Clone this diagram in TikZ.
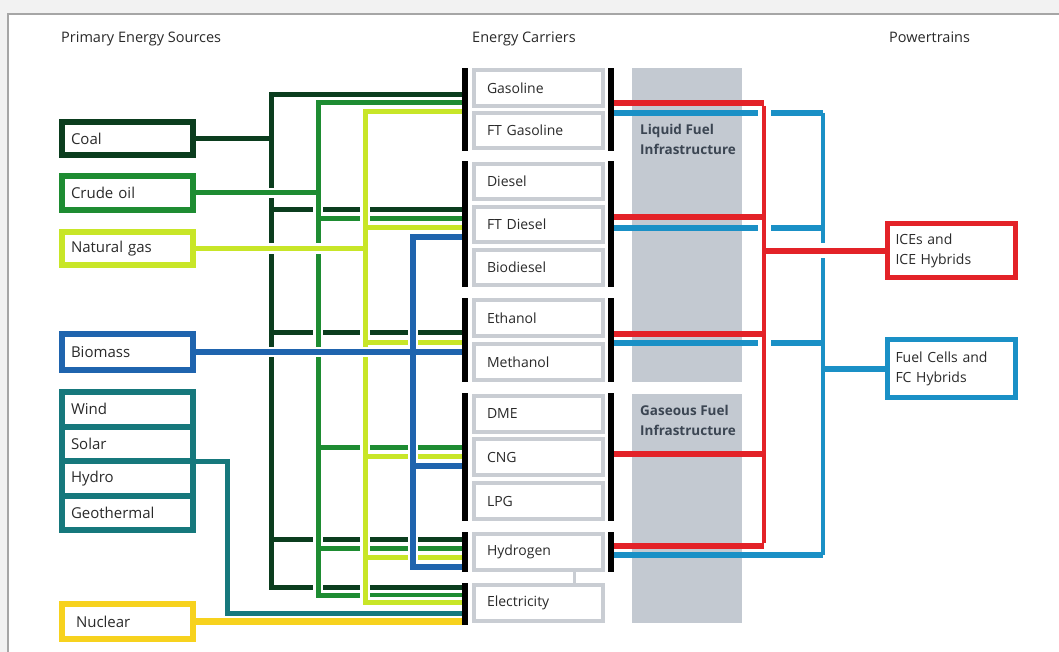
\documentclass[tikz,border=0pt]{standalone}
\usepackage{fontspec}
\setmainfont{Open Sans}
\usetikzlibrary{backgrounds}
\definecolor{coalcol}{HTML}{0B3D1E}
\definecolor{crudecol}{HTML}{1E8C32}
\definecolor{gascol}{HTML}{C8E628}
\definecolor{biocol}{HTML}{1F64AE}
\definecolor{rencol}{HTML}{16787C}
\definecolor{nuccol}{HTML}{F7D21E}
\definecolor{icecol}{HTML}{E32228}
\definecolor{fccol}{HTML}{1A90C6}
\definecolor{carrierborder}{HTML}{C9CDD3}
\definecolor{bandcol}{HTML}{C3C9D1}
\definecolor{bandtext}{HTML}{3B4552}
\definecolor{txt}{HTML}{2A2A2A}
\newcommand\treeCoal[1]{%
  \draw[#1] (coal.east) -- (coal.east -| xC);
  \draw[#1] (c1) -- (c1 -| xC) -- (c5 -| xC) -- (c5);
  \draw[#1] (c2 -| xC) -- (c2);
  \draw[#1] (c3 -| xC) -- (c3);
  \draw[#1] (c4 -| xC) -- (c4);}
\newcommand\treeCrude[1]{%
  \draw[#1] (crude.east) -- (crude.east -| xO);
  \draw[#1] (o1) -- (o1 -| xO) -- (o5 -| xO) -- (o5);
  \draw[#1] (o2 -| xO) -- (o2);
  \draw[#1] (o3 -| xO) -- (o3);
  \draw[#1] (o4 -| xO) -- (o4);}
\newcommand\treeGas[1]{%
  \draw[#1] (gas.east) -- (gas.east -| xG);
  \draw[#1] (g1) -- (g1 -| xG) -- (g6 -| xG) -- (g6);
  \draw[#1] (g2 -| xG) -- (g2);
  \draw[#1] (g3 -| xG) -- (g3);
  \draw[#1] (g4 -| xG) -- (g4);
  \draw[#1] (g5 -| xG) -- (g5);}
\newcommand\treeBio[1]{%
  \draw[#1] (biomass.east) -- (biomass.east -| xL);
  \draw[#1] (b1) -- (b1 -| xB) -- (b4 -| xB) -- (b4);
  \draw[#1] (b3 -| xB) -- (b3);}
\newcommand\treeRen[1]{%
  \draw[#1] (rs) -- (rs -| xR) -- (r1 -| xR) -- (r1);}
\begin{document}
\begin{tikzpicture}[x=1pt,y=-1pt,
  src/.style={draw=#1, line width=6pt, fill=white, minimum width=131pt,
    text width=113pt, inner xsep=9pt, inner ysep=0pt, align=left,
    font=\fontsize{15}{17}\selectfont, text=txt},
  carrier/.style={draw=carrierborder, line width=4pt, fill=white,
    minimum width=129pt, text width=103pt, inner xsep=13pt, inner ysep=0pt,
    minimum height=35.5pt, align=left, font=\fontsize{14}{16}\selectfont, text=txt},
  barn/.style={fill=black, draw=none, minimum width=6pt, inner sep=0pt},
  pt/.style={draw=#1, line width=5pt, fill=white, minimum width=128pt,
    text width=112pt, inner xsep=8pt, inner ysep=0pt, align=left,
    font=\fontsize{14}{20}\selectfont, text=txt},
  hdr/.style={font=\fontsize{14.5}{16}\selectfont, text=txt, inner sep=0pt, anchor=base west},
  bandlbl/.style={font=\fontsize{13.5}{20}\selectfont\bfseries, text=bandtext,
    inner sep=0pt, anchor=north west, align=left},
  halo/.style={draw=white, line width=10pt},
  coalL/.style={draw=coalcol, line width=5pt},
  crudeL/.style={draw=crudecol, line width=5pt},
  gasL/.style={draw=gascol, line width=5pt},
  bioL/.style={draw=biocol, line width=5.5pt},
  renL/.style={draw=rencol, line width=5pt},
  nucL/.style={draw=nuccol, line width=6.5pt},
  iceL/.style={draw=icecol, line width=6pt},
  iceV/.style={draw=icecol, line width=4.5pt},
  fcL/.style={draw=fccol, line width=6pt},
  fcV/.style={draw=fccol, line width=4.5pt}
]
\useasboundingbox (0,0) rectangle (1059,652);

% headers
\node[hdr] (h1) at (61,43) {Primary Energy Sources};
\node[hdr] (h2) at (472,43) {Energy Carriers};
\node[hdr] (h3) at (889,43) {Powertrains};

% primary sources
\node[src=coalcol, minimum height=33pt] (coal) at (127.5,138.5) {Coal};
\node[src=crudecol, minimum height=34pt] (crude) at (127.5,193) {Crude oil};
\node[src=gascol, minimum height=33pt] (gas) at (127.5,248.5) {Natural gas};
\node[src=biocol, minimum height=36pt] (biomass) at (127.5,352) {Biomass};
\node[src=rencol, minimum height=34.5pt] (wind) at (127.5,409.25) {Wind};
\node[src=rencol, minimum height=34.5pt] (solar) at (127.5,443.75) {Solar};
\node[src=rencol, minimum height=34.5pt] (hydro) at (127.5,478.25) {Hydro};
\node[src=rencol, minimum height=34.5pt] (geo) at (127.5,512.75) {Geothermal};
\node[src=nuccol, minimum height=35pt] (nuclear) at (127.5,621.5) {\hspace{5pt}Nuclear};

% carriers
\node[carrier] (gasoline) at (538.5,88) {Gasoline};
\node[carrier] (ftgas) at (538.5,130.5) {FT Gasoline};
\node[carrier] (diesel) at (538.5,181.5) {Diesel};
\node[carrier] (ftdiesel) at (538.5,224.5) {FT Diesel};
\node[carrier] (biodiesel) at (538.5,267.5) {Biodiesel};
\node[carrier] (ethanol) at (538.5,318) {Ethanol};
\node[carrier] (methanol) at (538.5,362) {Methanol};
\node[carrier] (dme) at (538.5,414) {DME};
\node[carrier] (cng) at (538.5,457) {CNG};
\node[carrier] (lpg) at (538.5,501) {LPG};
\node[carrier] (hydrogen) at (538.5,552) {Hydrogen};
\node[carrier] (electricity) at (538.5,603) {Electricity};
\coordinate (xh) at (574,0);
\draw[carrierborder, line width=3pt] (hydrogen.south -| xh) -- (electricity.north -| xh);

% bars
\node[barn, minimum height=83pt] (bar1l) at (465,109.5) {};
\node[barn, minimum height=83pt] (bar1r) at (611,109.5) {};
\node[barn, minimum height=126pt] (bar2l) at (465,224) {};
\node[barn, minimum height=126pt] (bar2r) at (611,224) {};
\node[barn, minimum height=84pt] (bar3l) at (465,340) {};
\node[barn, minimum height=84pt] (bar3r) at (611,340) {};
\node[barn, minimum height=128pt] (bar4l) at (465,457) {};
\node[barn, minimum height=128pt] (bar4r) at (611,457) {};
\node[barn, minimum height=40pt] (bar5l) at (465,552) {};
\node[barn, minimum height=40pt] (bar5r) at (611,552) {};
\node[barn, minimum height=42pt] (bar6l) at (465,604) {};

% powertrains
\node[pt=icecol, minimum height=54pt] (ice) at (951.5,250.5) {ICEs and\\ICE Hybrids};
\node[pt=fccol, minimum height=58pt] (fc) at (951.5,368.5) {Fuel Cells and\\FC Hybrids};

% band labels
\node[bandlbl] (liq) at (640,124) {Liquid Fuel\\Infrastructure};
\node[bandlbl] (gasinf) at (640,405) {Gaseous Fuel\\Infrastructure};

% coordinates of buses and line ends
\coordinate (xC) at (271,0);
\coordinate (xO) at (318,0);
\coordinate (xG) at (365,0);
\coordinate (xB) at (413,0);
\coordinate (xR) at (227,0);
\coordinate (xL) at (465,0);
\coordinate (xRed) at (764,0);
\coordinate (xBlu) at (823,0);
\coordinate (c1) at (465,95);  \coordinate (c2) at (465,210);
\coordinate (c3) at (465,332); \coordinate (c4) at (465,539);
\coordinate (c5) at (465,587);
\coordinate (o1) at (465,103); \coordinate (o2) at (465,219);
\coordinate (o3) at (465,447); \coordinate (o4) at (465,548);
\coordinate (o5) at (465,595);
\coordinate (g1) at (465,112); \coordinate (g2) at (465,228);
\coordinate (g3) at (465,342); \coordinate (g4) at (465,456);
\coordinate (g5) at (465,557); \coordinate (g6) at (465,602);
\coordinate (b1) at (465,237); \coordinate (b3) at (465,466);
\coordinate (b4) at (465,567);
\coordinate (rs) at (196,461); \coordinate (r1) at (465,613);
\coordinate (e1) at (611,103); \coordinate (e2) at (611,217);
\coordinate (e3) at (611,334); \coordinate (e4) at (611,454);
\coordinate (e5) at (611,546);
\coordinate (f1) at (611,113); \coordinate (f2) at (611,228);
\coordinate (f3) at (611,343); \coordinate (f4) at (611,555);

\begin{pgfonlayer}{background}
  \fill[white] (0,0) rectangle (1059,652);
  \fill[black!5] (0,0) rectangle (1059,14);
  \fill[black!5] (0,14) rectangle (8,652);
  \draw[black!35, line width=1.5pt] (8,652) -- (8,14) -- (1059,14);
  \fill[bandcol] (632,68) rectangle (742,382);
  \fill[bandcol] (632,394) rectangle (742,623);
  % left trees
  \treeCoal{coalL}
  \treeCrude{halo}\treeCrude{crudeL}
  \treeGas{halo}\treeGas{gasL}
  \treeBio{halo}\treeBio{bioL}
  \treeRen{halo}\treeRen{renL}
  \draw[nucL] (nuclear.east) -- (nuclear.east -| xL);
  % fuel-cell tree
  \draw[fcL] (f1) -- (f1 -| xBlu);
  \draw[fcL] (f2) -- (f2 -| xBlu);
  \draw[fcL] (f3) -- (f3 -| xBlu);
  \draw[fcL] (f4) -- (f4 -| xBlu);
  \draw[fcV] (f1 -| xBlu) -- (f4 -| xBlu);
  \draw[fcL] (fc.west -| xBlu) -- (fc.west);
  % ICE tree
  \draw[draw=white, line width=13pt] (e1 -| xRed) -- (e5 -| xRed);
  \draw[draw=white, line width=14pt] (ice.west -| xRed) -- (ice.west);
  \draw[iceL] (e1) -- (e1 -| xRed);
  \draw[iceL] (e2) -- (e2 -| xRed);
  \draw[iceL] (e3) -- (e3 -| xRed);
  \draw[iceL] (e4) -- (e4 -| xRed);
  \draw[iceL] (e5) -- (e5 -| xRed);
  \draw[iceV] ([yshift=-3pt]e1 -| xRed) -- ([yshift=3pt]e5 -| xRed);
  \draw[iceL] (ice.west -| xRed) -- (ice.west);
\end{pgfonlayer}
\end{tikzpicture}
\end{document}
